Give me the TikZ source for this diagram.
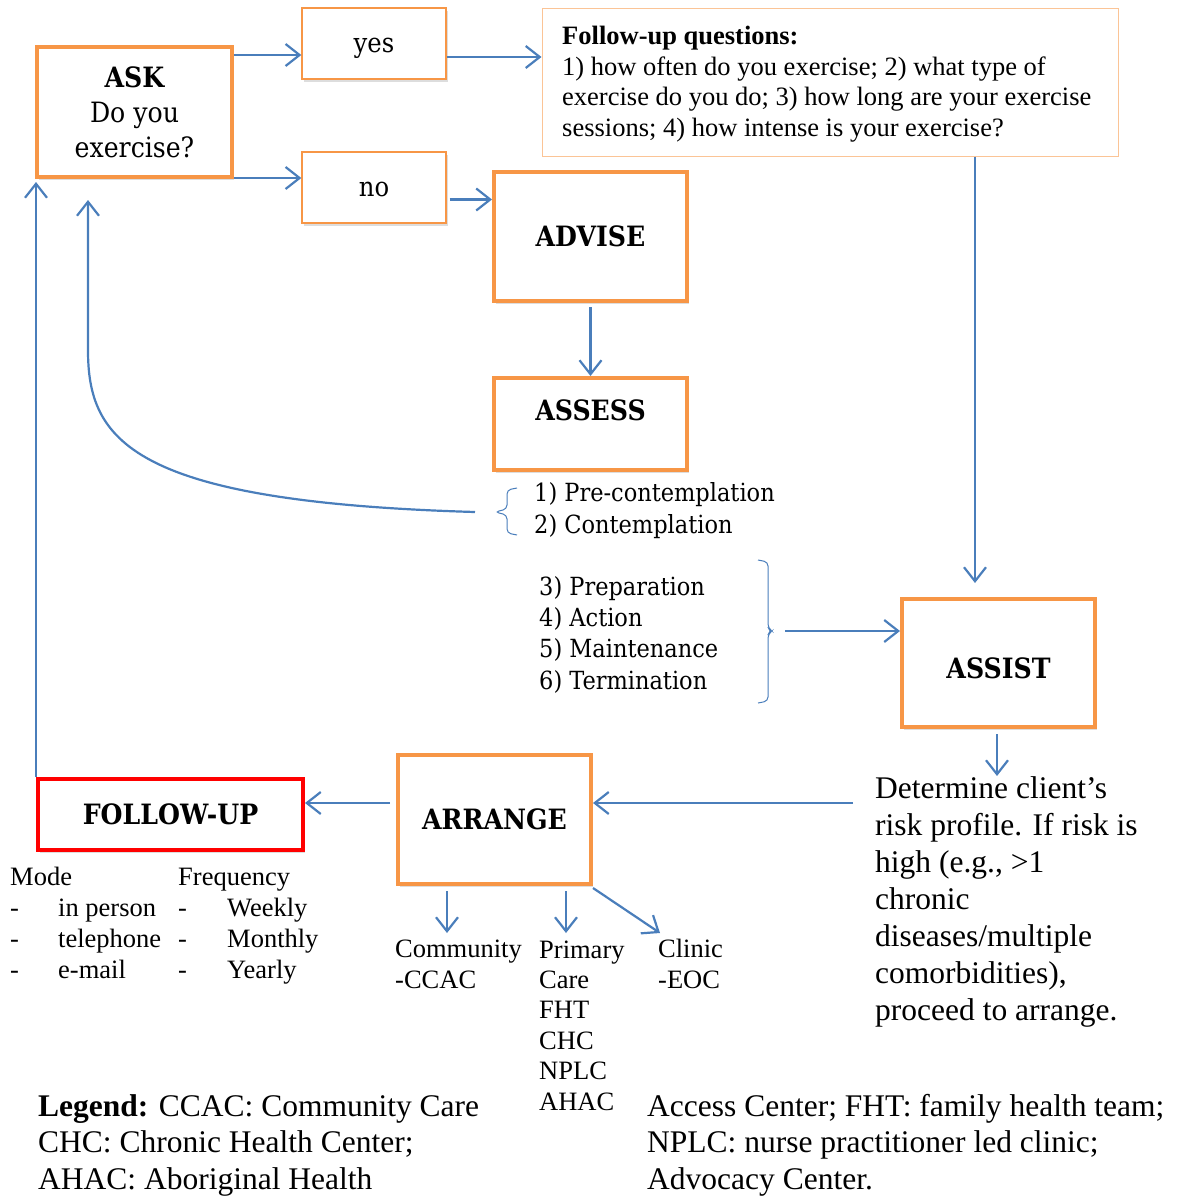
\documentclass[tikz,border=0pt]{standalone}
\usepackage{fontspec}
\setmainfont{Liberation Serif}
\newfontfamily\camb{DejaVu Serif Condensed}
\usetikzlibrary{arrows.meta,shadows}
\definecolor{org}{RGB}{247,150,70}
\definecolor{lorg}{RGB}{251,196,150}
\definecolor{blu}{RGB}{74,126,187}
\tikzset{
  shad/.style={drop shadow={shadow xshift=2pt,shadow yshift=-3pt,opacity=.22,fill=black!60}},
  bigbox/.style={draw=org,line width=4pt,fill=white,shad,inner sep=0pt,
    font=\camb\bfseries\fontsize{28}{35}\selectfont,align=center},
  thinbox/.style={draw=org,line width=1.3pt,fill=white,shad,inner sep=0pt,
    text height=18pt,text depth=0pt,
    font=\camb\fontsize{27}{34}\selectfont},
  arr/.style={draw=blu,line width=2.2pt,-{Straight Barb[length=14pt,width=22pt]}},
  brc/.style={draw=blu,line width=1pt,rounded corners=4pt},
  tx/.style={inner sep=0pt,anchor=base west,align=left},
  times/.style={tx,font=\fontsize{26.5}{30.4}\selectfont},
  stg/.style={tx,font=\camb\fontsize{25}{31.2}\selectfont},
}
\begin{document}
\begin{tikzpicture}[x=1pt,y=-1pt]
\useasboundingbox (0,0) rectangle (1183,1197);
% boxes
\node[bigbox,minimum width=195,minimum height=130] (ask) at (134.5,112) {ASK\\\mdseries Do you\\\mdseries exercise?};
\node[thinbox,minimum width=144,minimum height=71] (yes) at (374,43.5) {yes};
\node[thinbox,minimum width=144,minimum height=71] (no) at (374,187.5) {no};
\node[draw=lorg,line width=1pt,fill=white,minimum width=576,minimum height=148,inner sep=0pt] (fq) at (830,82) {};
\node[tx,font=\fontsize{26.5}{30.5}\selectfont] (fqtext) at (562,136) {\textbf{Follow-up questions:}\\1) how often do you exercise; 2) what type of\\exercise do you do; 3) how long are your exercise\\sessions; 4) how intense is your exercise?};
\node[bigbox,minimum width=193,minimum height=129] (advise) at (590.5,236.5) {ADVISE};
\node[bigbox,minimum width=193,minimum height=92] (assess) at (590.5,424) {};
\node[inner sep=0pt,font=\camb\bfseries\fontsize{28}{35}\selectfont] (assesst) at (590.5,410) {ASSESS};
\node[bigbox,minimum width=193,minimum height=128] (assist) at (998.5,663) {};
\node[inner sep=0pt,font=\camb\bfseries\fontsize{28}{35}\selectfont] (assistt) at (998.5,668) {ASSIST};
\node[bigbox,minimum width=193,minimum height=129] (arrange) at (494.5,819.5) {ARRANGE};
\node[bigbox,draw=red,minimum width=265,minimum height=71] (fu) at (170.5,814.5) {FOLLOW-UP};
% stage texts
\node[stg] (st12) at (534,533) {1) Pre-contemplation\\2) Contemplation};
\node[stg] (st36) at (539,689) {3) Preparation\\4) Action\\5) Maintenance\\6) Termination};
% braces
\coordinate (lb) at (495,512);
\draw[brc] (517,488) -- (507,490) -- (507,509) -- (lb) -- (507,515) -- (507,533) -- (517,535);
\coordinate (rb) at (772,631);
\draw[brc] (758,560) -- (768,562) -- (768,628) -- (rb) -- (768,634) -- (768,701) -- (758,703);
% determine text
\node[tx,font=\fontsize{31.5}{37}\selectfont] (det) at (875,1020) {Determine client’s\\risk profile. If risk is\\high (e.g., >1\\chronic\\diseases/multiple\\comorbidities),\\proceed to arrange.};
% arrange outputs
\node[times] (comm) at (395,988) {Community\\-CCAC};
\node[times] (prim) at (539,1110) {Primary\\Care\\FHT\\CHC\\NPLC\\AHAC};
\node[times] (clin) at (658,988) {Clinic\\-EOC};
% follow-up details
\node[times,font=\fontsize{26.5}{31}\selectfont] (mode) at (10,978) {Mode\\-\\-\\-};
\node[times,font=\fontsize{26.5}{31}\selectfont] (modei) at (58,978) {in person\\telephone\\e-mail};
\node[times,font=\fontsize{26.5}{31}\selectfont] (freq) at (178,978) {Frequency\\-\\-\\-};
\node[times,font=\fontsize{26.5}{31}\selectfont] (freqi) at (227,978) {Weekly\\Monthly\\Yearly};
% legend
\node[tx,font=\fontsize{31.5}{36.5}\selectfont] (legl) at (38,1189) {\textbf{Legend:} CCAC: Community Care\\CHC: Chronic Health Center;\\AHAC: Aboriginal Health};
\node[tx,font=\fontsize{31.5}{36.5}\selectfont] (legr) at (647,1189) {Access Center; FHT: family health team;\\NPLC: nurse practitioner led clinic;\\Advocacy Center.};
% connectors
\draw[arr] ([yshift=-10pt]ask.north east) -- ([yshift=-10pt]ask.north east -| yes.west);
\draw[arr] ([yshift=1pt]ask.south east) -- ([yshift=1pt]ask.south east -| no.west);
\draw[arr] ([yshift=-13.5pt]yes.east) -- ([yshift=-13.5pt]yes.east -| fq.west);
\draw[arr] ([yshift=-12pt,xshift=3pt]no.east) -- ([yshift=-12pt]no.east -| advise.west);
\draw[arr] ([yshift=-4pt]advise.south) -- (assess.north);
\coordinate (c1) at (975,583);
\draw[arr] (c1 |- fq.south) -- (c1);
\draw[arr] ([xshift=13pt]rb) -- (rb -| assist.west);
\coordinate (c2) at (997,776);
\draw[arr] ([yshift=-5pt]assist.south -| c2) -- (c2);
\coordinate (c3) at (853,803);
\draw[arr] (c3) -- (c3 -| arrange.east);
\coordinate (c5) at (390,803);
\draw[arr] (c5) -- (c5 -| fu.east);
\draw[arr] (fu.north west) -- ([yshift=-3pt]fu.north west |- ask.south);
\coordinate (c4) at (475,512);
\coordinate (c6) at (88,200);
\draw[arr] (c4) .. controls (130,502) and (88,440) .. (88,350) -- (c6);
\coordinate (a1) at (447,933);
\coordinate (a2) at (566,933);
\coordinate (a3) at (660,933);
\draw[arr] ([yshift=-5pt]arrange.south -| a1) -- (a1);
\draw[arr] ([yshift=-5pt]arrange.south -| a2) -- (a2);
\draw[arr] ([yshift=-2pt]arrange.south east) -- (a3);
\end{tikzpicture}
\end{document}
